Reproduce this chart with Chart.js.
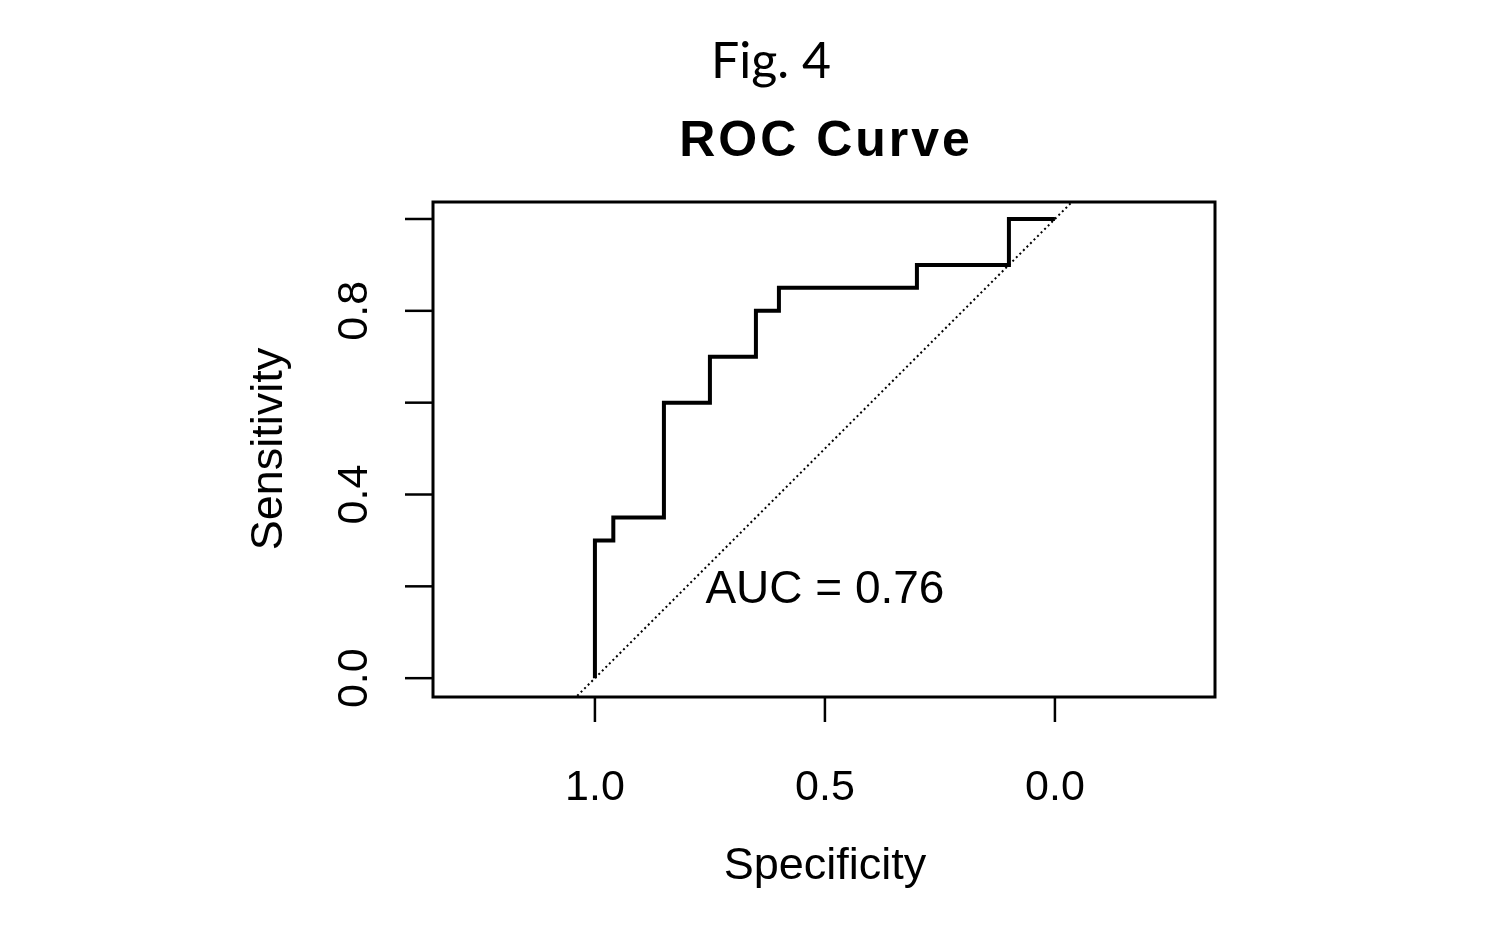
<!DOCTYPE html>
<html>
<head>
<meta charset="utf-8">
<style>
  html, body { margin: 0; padding: 0; background: #fff; }
  #wrap { width: 1505px; height: 926px; }
</style>
<script src="https://cdn.jsdelivr.net/npm/chart.js@4"></script>
</head>
<body>
<div id="wrap"><canvas id="rocChart" width="1505" height="926"></canvas></div>
<script>
// ROC curve corner points (stepped: horizontal first, then vertical)
const specificity = [1.00, 1.00, 0.96, 0.85, 0.75, 0.65, 0.60, 0.30, 0.10, 0.00];
const sensitivity = [0.00, 0.30, 0.35, 0.60, 0.70, 0.80, 0.85, 0.90, 1.00, 1.00];

// reference diagonal sens = 1 - spec, clipped to the plot box
const diagSpec = [1.5, -0.5];

const xTicks = [1.0, 0.5, 0.0];
const xTickLabels = ['1.0', '0.5', '0.0'];
const yTicks = [0.0, 0.2, 0.4, 0.6, 0.8, 1.0];
const yTickLabels = ['0.0', '', '0.4', '', '0.8', ''];

const aucText = 'AUC = 0.76';
const aucAt = [0.5, 0.2];

const ctx = document.getElementById('rocChart').getContext('2d');

const rocDecor = {
    id: 'rocDecor',
    afterDraw(chart) {
        const { ctx, chartArea: a, scales: { x, y } } = chart;
        ctx.save();
        ctx.strokeStyle = '#000';
        ctx.fillStyle = '#000';

        // plot box
        ctx.lineWidth = 3;
        ctx.strokeRect(a.left, a.top, a.right - a.left, a.bottom - a.top);

        // x axis ticks + labels
        ctx.lineWidth = 2.5;
        ctx.font = '43px "Liberation Sans"';
        ctx.textAlign = 'center';
        ctx.textBaseline = 'alphabetic';
        xTicks.forEach((v, i) => {
            const px = x.getPixelForValue(v);
            ctx.beginPath();
            ctx.moveTo(px, a.bottom);
            ctx.lineTo(px, a.bottom + 25);
            ctx.stroke();
            ctx.fillText(xTickLabels[i], px, 800);
        });

        // y axis ticks + rotated labels
        yTicks.forEach((v, i) => {
            const py = y.getPixelForValue(v);
            ctx.beginPath();
            ctx.moveTo(a.left, py);
            ctx.lineTo(a.left - 28, py);
            ctx.stroke();
            if (yTickLabels[i]) {
                ctx.save();
                ctx.translate(367, py);
                ctx.rotate(-Math.PI / 2);
                ctx.fillText(yTickLabels[i], 0, 0);
                ctx.restore();
            }
        });

        // axis titles
        ctx.font = '45px "Liberation Sans"';
        ctx.fillText('Specificity', x.getPixelForValue(0.5), 879);
        ctx.save();
        ctx.translate(282, 449);
        ctx.rotate(-Math.PI / 2);
        ctx.fillText('Sensitivity', 0, 0);
        ctx.restore();

        // AUC label
        ctx.font = '46px "Liberation Sans"';
        ctx.fillText(aucText, x.getPixelForValue(aucAt[0]), y.getPixelForValue(aucAt[1]) + 17);

        // titles
        ctx.font = 'bold 50px "Liberation Sans"';
        ctx.letterSpacing = '3px';
        ctx.fillText('ROC Curve', 826, 156);
        ctx.letterSpacing = '0px';
        ctx.font = '50px Lato';
        ctx.fillText('Fig. 4', 771, 78);

        ctx.restore();
    }
};

new Chart(ctx, {
    type: 'scatter',
    data: {
        datasets: [{
            label: 'Diagonal',
            data: diagSpec.map(s => ({ x: s, y: 1 - s })),
            showLine: true,
            borderColor: '#000',
            borderWidth: 2,
            borderDash: [2, 3],
            pointRadius: 0
        }, {
            label: 'ROC',
            data: specificity.map((s, i) => ({ x: s, y: sensitivity[i] })),
            showLine: true,
            stepped: 'before',
            borderColor: '#000',
            borderWidth: 4,
            pointRadius: 0
        }]
    },
    options: {
        responsive: false,
        animation: false,
        layout: {
            padding: { left: 433, right: 290, top: 202, bottom: 229 }
        },
        scales: {
            x: { type: 'linear', reverse: true, min: -0.348, max: 1.352, display: false },
            y: { type: 'linear', min: -0.041, max: 1.037, display: false }
        },
        plugins: {
            legend: { display: false },
            tooltip: { enabled: false }
        }
    },
    plugins: [rocDecor]
});
</script>
</body>
</html>
